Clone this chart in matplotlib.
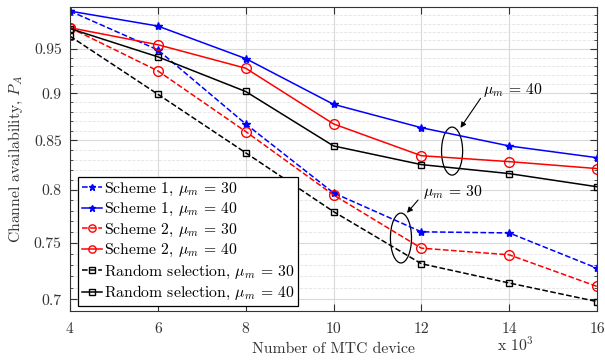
import matplotlib
matplotlib.use("Agg")
import matplotlib.pyplot as plt
from matplotlib.patches import Ellipse
from matplotlib.ticker import FixedLocator, FixedFormatter, NullFormatter
import numpy as np

plt.rcParams['font.family'] = 'serif'
plt.rcParams['font.serif'] = ['cmr10']
plt.rcParams['mathtext.fontset'] = 'cm'
plt.rcParams['axes.formatter.use_mathtext'] = True
plt.rcParams['font.size'] = 11.3

# ---- data ----
devices = [4, 6, 8, 10, 12, 14, 16]
s1_30 = [0.995, 0.949, 0.867, 0.797, 0.760, 0.759, 0.727]
s1_40 = [0.995, 0.977, 0.939, 0.888, 0.863, 0.844, 0.832]
s2_30 = [0.975, 0.925, 0.859, 0.795, 0.745, 0.739, 0.711]
s2_40 = [0.975, 0.955, 0.928, 0.867, 0.834, 0.828, 0.821]
rnd_30 = [0.965, 0.899, 0.837, 0.779, 0.731, 0.714, 0.698]
rnd_40 = [0.974, 0.941, 0.902, 0.844, 0.825, 0.816, 0.803]

yticks = [0.7, 0.75, 0.8, 0.85, 0.9, 0.95]
ytick_labels = ['0.7', '0.75', '0.8', '0.85', '0.9', '0.95']
xticks = [4, 6, 8, 10, 12, 14, 16]

fig = plt.figure(figsize=(6.05, 3.64), dpi=100)
ax = fig.add_axes([0.1157, 0.1456, 0.8711, 0.8352])

lw = 1.1
ax.plot(devices, s1_30, '--', color='b', marker='*', ms=6, lw=lw, label=r'Scheme 1, $\mu_m \,=\, 30$')
ax.plot(devices, s1_40, '-', color='b', marker='*', ms=6, lw=lw, label=r'Scheme 1, $\mu_m \,=\, 40$')
ax.plot(devices, s2_30, '--', color='r', marker='o', ms=7, mfc='none', lw=lw, label=r'Scheme 2, $\mu_m \,=\, 30$')
ax.plot(devices, s2_40, '-', color='r', marker='o', ms=7, mfc='none', lw=lw, label=r'Scheme 2, $\mu_m \,=\, 40$')
ax.plot(devices, rnd_30, '--', color='k', marker='s', ms=5, mfc='none', lw=lw, label=r'Random selection, $\mu_m \,=\, 30$')
ax.plot(devices, rnd_40, '-', color='k', marker='s', ms=5, mfc='none', lw=lw, label=r'Random selection, $\mu_m \,=\, 40$')

ax.set_yscale('log')
ax.set_xlim(4, 16)
ax.set_ylim(0.69, 1.0)
ax.yaxis.set_major_locator(FixedLocator(yticks))
ax.yaxis.set_major_formatter(FixedFormatter(ytick_labels))
ax.yaxis.set_minor_locator(FixedLocator(np.arange(0.69, 1.0001, 0.01)))
ax.yaxis.set_minor_formatter(NullFormatter())
ax.set_xticks(xticks)
ax.set_xticklabels([str(v) for v in xticks])

ax.grid(True, which='major', color='#d9d9d9', lw=0.8, ls='-')
ax.grid(True, which='minor', axis='y', color='#e3e3e3', lw=0.6, ls='--')
ax.set_axisbelow(True)
ax.tick_params(which='both', direction='in', top=True, right=True, colors='#333333', labelcolor='#333333')
ax.tick_params(which='major', length=5, pad=6)
ax.tick_params(axis='x', which='major', pad=8)
ax.tick_params(which='minor', length=2.5)
for s in ax.spines.values():
    s.set_color('#333333')
    s.set_linewidth(0.8)

ax.set_xlabel('Number of MTC device', color='#333333', labelpad=5)
ax.set_ylabel(r'Channel availability, $P_A$', color='#333333', labelpad=6)
ax.text(0.81, -0.13, r'x $10^3$', transform=ax.transAxes, color='#333333')

leg = ax.legend(loc='lower left', bbox_to_anchor=(0.015, 0.016), borderaxespad=0,
                fancybox=False, edgecolor='k', framealpha=1, handlelength=1.3,
                handletextpad=0.1, labelspacing=0.22, borderpad=0.25, markerscale=0.75)
leg.get_frame().set_linewidth(0.9)

ax.add_patch(Ellipse((0.725, 0.526), 0.040, 0.158, transform=ax.transAxes,
                     fill=False, ec='k', lw=0.9))
ax.add_patch(Ellipse((0.628, 0.240), 0.040, 0.164, transform=ax.transAxes,
                     fill=False, ec='k', lw=0.9))
ax.annotate('', xy=(0.738, 0.595), xytext=(0.782, 0.707), xycoords='axes fraction',
            arrowprops=dict(arrowstyle='-|>', color='k', lw=0.8, mutation_scale=8))
ax.text(0.784, 0.727, r'$\mu_m \,=\, 40$', transform=ax.transAxes, va='center')
ax.annotate('', xy=(0.636, 0.316), xytext=(0.664, 0.372), xycoords='axes fraction',
            arrowprops=dict(arrowstyle='-|>', color='k', lw=0.8, mutation_scale=8))
ax.text(0.670, 0.391, r'$\mu_m \,=\, 30$', transform=ax.transAxes, va='center')

fig.savefig('out.png', dpi=100)
